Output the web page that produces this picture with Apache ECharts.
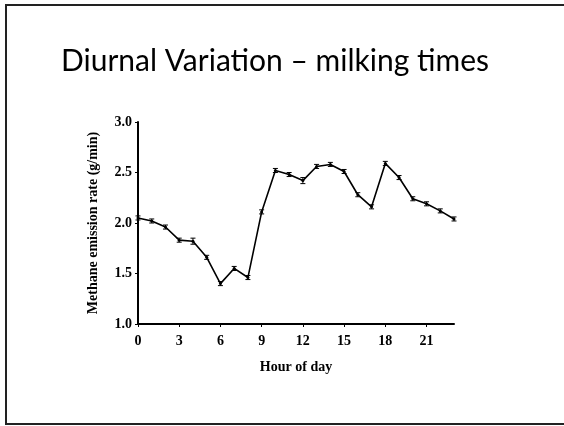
<!DOCTYPE html>
<html>
<head>
<meta charset="utf-8">
<script src="https://cdn.jsdelivr.net/npm/echarts@6/dist/echarts.min.js"></script>
<style>
  html, body { margin: 0; padding: 0; background: #fff; }
  #chart { width: 564px; height: 426px; }
</style>
</head>
<body>
<div id="chart"></div>
<script>
// 数据：每小时甲烷排放速率
const hours = [0, 1, 2, 3, 4, 5, 6, 7, 8, 9, 10, 11, 12, 13, 14, 15, 16, 17, 18, 19, 20, 21, 22, 23];
const rates = [2.05, 2.02, 1.96, 1.83, 1.82, 1.66, 1.40, 1.55, 1.46, 2.11, 2.52, 2.48, 2.42, 2.56, 2.58, 2.51, 2.28, 2.16, 2.59, 2.45, 2.24, 2.19, 2.12, 2.04];
const errors = [0.02, 0.02, 0.02, 0.02, 0.03, 0.02, 0.02, 0.02, 0.02, 0.02, 0.02, 0.02, 0.03, 0.02, 0.02, 0.02, 0.02, 0.02, 0.02, 0.02, 0.02, 0.02, 0.02, 0.02];
const xTicks = [0, 3, 6, 9, 12, 15, 18, 21];
const yTicks = [1.0, 1.5, 2.0, 2.5, 3.0];

const serif = '"Liberation Serif", "Times New Roman", serif';

var chartDom = document.getElementById('chart');
var myChart = echarts.init(chartDom);

var lineData = hours.map((h, i) => [h, rates[i]]);
var errData = hours.map((h, i) => [h, rates[i] - errors[i], rates[i] + errors[i]]);

var option = {
  animation: false,
  title: {
    text: 'Diurnal Variation – milking times',
    left: 270,
    textAlign: 'center',
    top: 41,
    textStyle: {
      fontFamily: 'Lato, "Open Sans", sans-serif',
      fontWeight: 'normal',
      fontSize: 30,
      color: '#000'
    }
  },
  // 幻灯片边框
  graphic: [{
    type: 'rect',
    shape: { x: 6, y: 5, width: 620, height: 419 },
    style: { fill: 'none', stroke: '#222', lineWidth: 2 }
  }],
  grid: {
    left: 138,
    top: 122,
    right: 110,
    bottom: 102
  },
  xAxis: {
    type: 'value',
    min: 0,
    max: 23,
    interval: 3,
    name: 'Hour of day',
    nameLocation: 'middle',
    nameGap: 36,
    nameTextStyle: { fontFamily: serif, fontWeight: 'bold', fontSize: 14, color: '#000' },
    splitLine: { show: false },
    axisLine: { lineStyle: { color: '#000', width: 2 } },
    axisTick: { length: 3, lineStyle: { color: '#000', width: 1 } },
    axisLabel: {
      fontFamily: serif, fontWeight: 'bold', fontSize: 14, color: '#000', margin: 10,
      showMaxLabel: false,
      formatter: v => (xTicks.includes(v) ? String(v) : '')
    }
  },
  yAxis: {
    type: 'value',
    min: 1.0,
    max: 3.0,
    interval: 0.5,
    name: 'Methane emission rate (g/min)',
    nameLocation: 'middle',
    nameGap: 38,
    nameTextStyle: { fontFamily: serif, fontWeight: 'bold', fontSize: 14, color: '#000' },
    splitLine: { show: false },
    axisLine: { show: true, lineStyle: { color: '#000', width: 2 } },
    axisTick: { show: true, length: 3, lineStyle: { color: '#000', width: 1 } },
    axisLabel: {
      fontFamily: serif, fontWeight: 'bold', fontSize: 14, color: '#000', margin: 6,
      formatter: v => (yTicks.includes(v) ? v.toFixed(1) : '')
    }
  },
  series: [
    {
      name: 'Methane',
      type: 'line',
      data: lineData,
      symbol: 'circle',
      symbolSize: 3,
      itemStyle: { color: '#000' },
      lineStyle: { color: '#000', width: 1.6 },
      z: 3
    },
    {
      name: 'SE',
      type: 'custom',
      data: errData,
      renderItem: function (params, api) {
        var x = api.value(0);
        var lo = api.coord([x, api.value(1)]);
        var hi = api.coord([x, api.value(2)]);
        var w = 2.5;
        return {
          type: 'group',
          children: [
            { type: 'line', shape: { x1: lo[0], y1: lo[1], x2: hi[0], y2: hi[1] }, style: { stroke: '#000', lineWidth: 1 } },
            { type: 'line', shape: { x1: lo[0] - w, y1: lo[1], x2: lo[0] + w, y2: lo[1] }, style: { stroke: '#000', lineWidth: 1 } },
            { type: 'line', shape: { x1: hi[0] - w, y1: hi[1], x2: hi[0] + w, y2: hi[1] }, style: { stroke: '#000', lineWidth: 1 } }
          ]
        };
      },
      z: 4
    }
  ]
};

myChart.setOption(option);
</script>
</body>
</html>
